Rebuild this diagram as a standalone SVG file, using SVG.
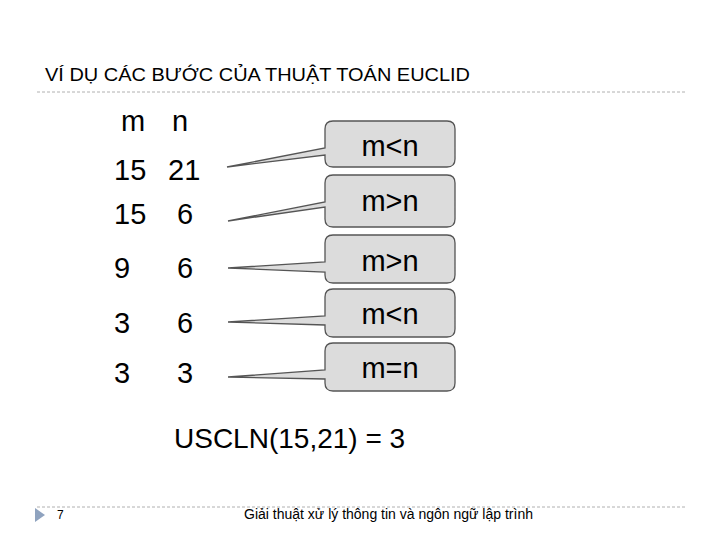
<svg xmlns="http://www.w3.org/2000/svg" width="720" height="540" viewBox="0 0 720 540">
<style>
.t{font-family:"Liberation Sans",Arial,sans-serif;fill:#000}
.big{font-size:29px}
.box{fill:#dcdcdc;stroke:#555;stroke-width:1.3}
.sep{stroke:#b0b0b0;stroke-width:1;stroke-dasharray:3,2}
</style>
<rect width="720" height="540" fill="#fff"/>
<g id="title">
<text class="t" x="45" y="81" font-size="19" fill="#222" textLength="425" lengthAdjust="spacingAndGlyphs">VÍ DỤ CÁC BƯỚC CỦA THUẬT TOÁN EUCLID</text>
<line class="sep" x1="37" y1="92" x2="685" y2="92"/>
</g>
<g id="table">
<text class="t big" x="121" y="131">m</text><text class="t big" x="172" y="131">n</text>
<text class="t big" x="114" y="180">15</text><text class="t big" x="168" y="180">21</text>
<text class="t big" x="114" y="224">15</text><text class="t big" x="177" y="224">6</text>
<text class="t big" x="114" y="278">9</text><text class="t big" x="177" y="278">6</text>
<text class="t big" x="114" y="333">3</text><text class="t big" x="177" y="333">6</text>
<text class="t big" x="114" y="383">3</text><text class="t big" x="177" y="383">3</text>
</g>
<g id="connectors">
</g>
<g id="callout1">
<path class="box" d="M333,121 H447 Q455,121 455,129 V159 Q455,167 447,167 H333 Q325,167 325,159 V155 L227,167 L325,148 V129 Q325,121 333,121 Z"/>
<text class="t big" x="390" y="156" text-anchor="middle">m&lt;n</text>
</g>
<g id="callout2">
<path class="box" d="M333,175 H447 Q455,175 455,183 V219 Q455,227 447,227 H333 Q325,227 325,219 V207 L228,221 L325,202 V183 Q325,175 333,175 Z"/>
<text class="t big" x="390" y="211" text-anchor="middle">m&gt;n</text>
</g>
<g id="callout3">
<path class="box" d="M333,235 H447 Q455,235 455,243 V275 Q455,283 447,283 H333 Q325,283 325,275 V272 L228,268 L325,262 V243 Q325,235 333,235 Z"/>
<text class="t big" x="390" y="271" text-anchor="middle">m&gt;n</text>
</g>
<g id="callout4">
<path class="box" d="M333,289 H447 Q455,289 455,297 V329 Q455,337 447,337 H333 Q325,337 325,329 V325 L228,322 L325,316 V297 Q325,289 333,289 Z"/>
<text class="t big" x="390" y="324" text-anchor="middle">m&lt;n</text>
</g>
<g id="callout5">
<path class="box" d="M333,343 H447 Q455,343 455,351 V383 Q455,391 447,391 H333 Q325,391 325,383 V379 L228,377 L325,370 V351 Q325,343 333,343 Z"/>
<text class="t big" x="390" y="378" text-anchor="middle">m=n</text>
</g>
<g id="result">
<text class="t" x="174" y="448" font-size="28">USCLN(15,21) = 3</text>
</g>
<g id="footer">
<line class="sep" x1="37" y1="507" x2="685" y2="507"/>
<polygon points="35,508 45,515 35,522" fill="#8fa3bf"/>
<text class="t" x="57" y="519" font-size="12" fill="#333">7</text>
<text class="t" x="244" y="519" font-size="14" fill="#333" textLength="289" lengthAdjust="spacingAndGlyphs">Giải thuật xử lý thông tin và ngôn ngữ lập trình</text>
</g>
</svg>
